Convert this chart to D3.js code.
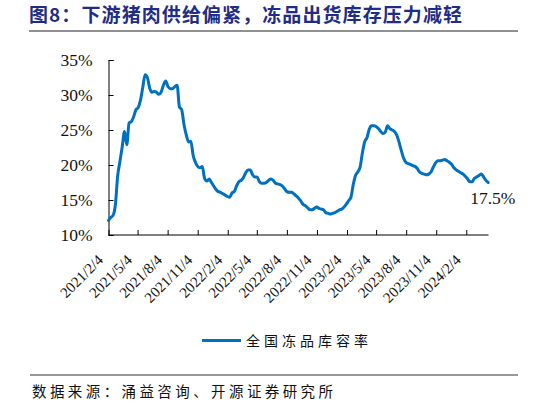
<!DOCTYPE html>
<html>
<head>
<meta charset="utf-8">
<script src="https://cdn.jsdelivr.net/npm/d3@7"></script>
<style>
  html, body { margin: 0; padding: 0; background: #fff; }
  svg { display: block; }
</style>
</head>
<body>
<script>
// ---- data ----
const titleText = "图8：下游猪肉供给偏紧，冻品出货库存压力减轻";
const sourceText = "数据来源：涌益咨询、开源证券研究所";
const seriesName = "全国冻品库容率";
const startDate = "2021/2/4";      // first weekly observation
const endDate = "2024/4/12";       // end of category axis
const xTickLabels = ["2021/2/4","2021/5/4","2021/8/4","2021/11/4","2022/2/4","2022/5/4","2022/8/4",
  "2022/11/4","2023/2/4","2023/5/4","2023/8/4","2023/11/4","2024/2/4"];
const yTicks = [10, 15, 20, 25, 30, 35];
// weekly values (%)
const values = [
  12.1,12.5,12.8,14.3,18.4,20.5,22.6,24.8,22.9,26.0,
  26.2,26.9,27.9,28.2,29.3,31.1,32.9,32.5,31.0,30.4,
  30.5,30.4,30.1,30.4,31.4,32.0,31.2,30.9,30.9,31.2,
  31.4,28.3,27.9,25.8,24.3,23.3,23.4,21.4,20.4,19.8,
  19.6,19.8,18.1,17.7,18.0,17.5,17.0,16.5,16.2,16.1,
  15.9,15.7,15.5,15.4,16.0,16.2,17.0,17.6,17.8,18.2,
  18.9,19.3,19.3,18.6,18.3,18.3,17.6,17.4,17.4,17.5,
  17.8,18.0,17.8,17.4,17.3,17.2,17.0,16.6,16.2,16.1,
  16.1,15.9,15.6,15.3,14.9,14.4,14.2,13.9,13.6,13.6,
  13.8,14.0,13.8,13.7,13.6,13.2,13.1,13.0,13.1,13.2,
  13.4,13.6,13.7,14.0,14.4,14.9,15.4,17.2,18.5,19.0,
  19.7,21.7,23.3,23.9,25.1,25.6,25.6,25.5,25.2,24.8,
  24.5,24.7,25.6,25.2,25.0,24.8,24.3,23.3,22.1,21.0,
  20.4,20.2,20.1,19.9,19.8,19.5,19.0,18.8,18.7,18.6,
  18.7,19.0,19.7,20.3,20.6,20.6,20.7,20.8,20.6,20.4,
  20.1,19.6,19.3,19.1,18.9,18.7,18.4,18.0,17.6,17.6,
  18.1,18.3,18.5,18.7,18.3,17.8,17.5
];
const lastLabel = "17.5%";

// ---- layout ----
const W = 546, H = 405;
const parse = d3.utcParse("%Y/%m/%d");
const t0 = parse(startDate);
const dates = values.map((_, i) => d3.utcDay.offset(t0, 7 * i));
const data = values.map((v, i) => ({ date: dates[i], value: v }));

const svg = d3.select("body").append("svg").attr("width", W).attr("height", H);
svg.append("rect").attr("width", W).attr("height", H).attr("fill", "#fff");

const x = d3.scaleUtc().domain([t0, parse(endDate)]).range([108.5, 488.5]);
const y = d3.scaleLinear().domain([10, 35]).range([235, 60]);

const serif = "'Liberation Serif','Times New Roman',serif";
const cjk = "'Noto Sans CJK SC','Noto Sans',sans-serif";

// title
svg.append("text").attr("x", 29).attr("y", 22)
  .attr("font-family", cjk).attr("font-weight", 700).attr("font-size", 19)
  .attr("fill", "#1F2D86").attr("textLength", 433).attr("lengthAdjust", "spacing")
  .text(titleText);
svg.append("line").attr("x1", 29).attr("x2", 518).attr("y1", 31).attr("y2", 31)
  .attr("stroke", "#222").attr("stroke-width", 1.2);

// y axis
const yAxis = svg.append("g").attr("transform", "translate(108.5,0)")
  .call(d3.axisLeft(y).tickValues(yTicks).tickSize(-5).tickPadding(16).tickFormat(d => d + "%"));
yAxis.select(".domain").attr("stroke", "#000");
yAxis.selectAll(".tick line").attr("stroke", "#000");
yAxis.selectAll("text").attr("font-family", serif).attr("font-size", 17.5).attr("fill", "#111");

// x axis
const xAxis = svg.append("g").attr("transform", "translate(0,235)")
  .call(d3.axisBottom(x).tickValues(xTickLabels.map(parse)).tickSize(-5).tickFormat(d3.utcFormat("%Y/%-m/%-d")));
xAxis.select(".domain").attr("stroke", "#000").attr("d", `M${x.range()[0]},0H${x.range()[1]}`);
xAxis.selectAll(".tick line").attr("stroke", "#000");
xAxis.selectAll("text")
  .attr("font-family", serif).attr("font-size", 15).attr("fill", "#111")
  .attr("text-anchor", "end").attr("dy", null).attr("y", null)
  .attr("transform", "translate(-5,26) rotate(-45)");

// line
const line = d3.line().x(d => x(d.date)).y(d => y(d.value)).curve(d3.curveMonotoneX);
svg.append("path").datum(data).attr("d", line)
  .attr("fill", "none").attr("stroke", "#0070C0").attr("stroke-width", 3)
  .attr("stroke-linejoin", "round").attr("stroke-linecap", "round");

// last value label
const last = data[data.length - 1];
svg.append("text").attr("x", x(last.date) - 18).attr("y", y(last.value) + 21)
  .attr("font-family", serif).attr("font-size", 17.5).attr("fill", "#111")
  .text(lastLabel);

// legend
svg.append("line").attr("x1", 202).attr("x2", 241).attr("y1", 340.5).attr("y2", 340.5)
  .attr("stroke", "#0070C0").attr("stroke-width", 3);
svg.append("text").attr("x", 246).attr("y", 346)
  .attr("font-family", cjk).attr("font-size", 14).attr("fill", "#111")
  .attr("textLength", 122).attr("lengthAdjust", "spacing")
  .text(seriesName);

// source
svg.append("line").attr("x1", 30).attr("x2", 518).attr("y1", 375).attr("y2", 375)
  .attr("stroke", "#333").attr("stroke-width", 1.2);
svg.append("text").attr("x", 32).attr("y", 397)
  .attr("font-family", cjk).attr("font-size", 14.5).attr("fill", "#111")
  .attr("textLength", 301).attr("lengthAdjust", "spacing")
  .text(sourceText);
</script>
</body>
</html>
